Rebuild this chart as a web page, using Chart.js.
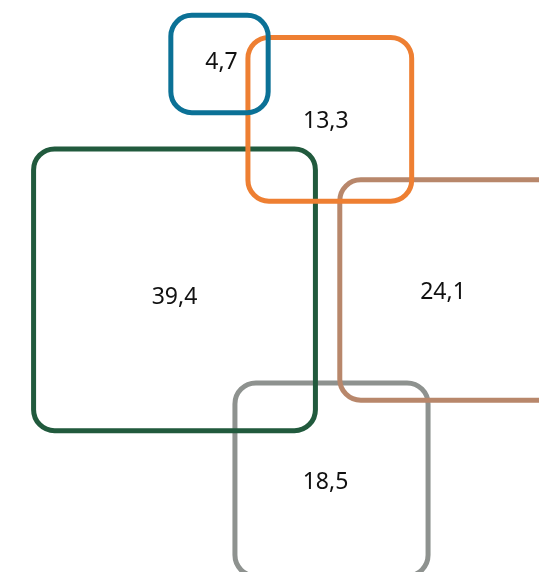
<!DOCTYPE html>
<html>
<head>
<meta charset="utf-8">
<script src="https://cdn.jsdelivr.net/npm/chart.js@4.4.1/dist/chart.umd.min.js"></script>
<style>
  html, body { margin: 0; padding: 0; background: #fff; }
  #wrap { width: 539px; height: 572px; }
</style>
</head>
<body>
<div id="wrap"><canvas id="chart"></canvas></div>
<script>
// values shown in each box (box area ~ value)
let values = [18.5, 24.1, 39.4, 13.3, 4.7];
let labels = ["18,5", "24,1", "39,4", "13,3", "4,7"];
// box centres, in chart units
let centerX = [33.15, 45.0, 17.45, 32.98, 21.95];
let centerY = [47.95, 29.0, 28.98, 11.93, 6.4];
let colors = ["#8e928f", "#b8876b", "#215a3d", "#ee7f32", "#0b7196"];

let sideUnit = 4.49; // box side = sideUnit * sqrt(value)

let points = values.map((v, i) => ({ x: centerX[i], y: centerY[i], v: v }));

// small label nudges (px) so the text sits where the original put it
const labelShift = [[-6, 3], [-7, 2], [0, 8], [-4, 2], [2, -2]];

const roundedBoxes = {
  id: "roundedBoxes",
  afterDatasetsDraw(chart) {
    let ctx = chart.ctx;
    let xs = chart.scales.x;
    let meta = chart.getDatasetMeta(0);
    let unitPx = xs.getPixelForValue(1) - xs.getPixelForValue(0);
    ctx.save();
    meta.data.forEach((pt, i) => {
      let side = sideUnit * Math.sqrt(values[i]) * unitPx;
      ctx.beginPath();
      ctx.roundRect(pt.x - side / 2, pt.y - side / 2, side, side, 21);
      ctx.lineWidth = 5;
      ctx.strokeStyle = colors[i];
      ctx.stroke();
    });
    ctx.fillStyle = "#111";
    ctx.font = "23px 'Noto Sans'";
    ctx.textAlign = "center";
    ctx.textBaseline = "middle";
    meta.data.forEach((pt, i) => {
      ctx.fillText(labels[i], pt.x + labelShift[i][0], pt.y + labelShift[i][1]);
    });
    ctx.restore();
  }
};

new Chart(document.getElementById("chart"), {
  type: "scatter",
  data: {
    datasets: [{ data: points, pointRadius: 0, pointHoverRadius: 0 }]
  },
  options: {
    responsive: true,
    maintainAspectRatio: false,
    animation: false,
    layout: { padding: 0 },
    plugins: { legend: { display: false }, tooltip: { enabled: false } },
    scales: {
      x: { type: "linear", min: 0, max: 53.9, display: false },
      y: { type: "linear", min: 0, max: 57.2, reverse: true, display: false }
    }
  },
  plugins: [roundedBoxes]
});
</script>
</body>
</html>
